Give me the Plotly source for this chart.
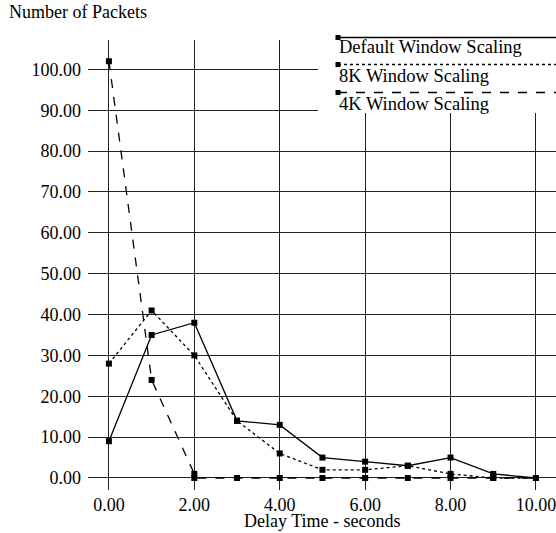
import plotly.graph_objects as go

# Data
delay_seconds = [0, 1, 2, 3, 4, 5, 6, 7, 8, 9, 10]
default_scaling = [9, 35, 38, 14, 13, 5, 4, 3, 5, 1, 0]
scaling_8k = [28, 41, 30, 14, 6, 2, 2, 3, 1, 0, 0]
delay_seconds_4k = [0, 1, 2, 2, 3, 4, 5, 6, 7, 8, 9, 10]
scaling_4k = [102, 24, 1, 0, 0, 0, 0, 0, 0, 0, 0, 0]

series_names = ["Default Window Scaling", "8K Window Scaling", "4K Window Scaling"]
x_tick_values = [0, 2, 4, 6, 8, 10]
y_tick_values = [0, 10, 20, 30, 40, 50, 60, 70, 80, 90, 100]

FONT = "Liberation Serif"
W, H = 556, 533
ML, MR, MT, MB = 88, 0, 40, 43
PW, PH = W - ML - MR, H - MT - MB


def px(x):
    return (x - ML) / PW


def py(y):
    return (H - MB - y) / PH


fig = go.Figure()
styles = ["solid", "dot", "dash"]
xs = [delay_seconds, delay_seconds, delay_seconds_4k]
ys = [default_scaling, scaling_8k, scaling_4k]
for name, x, y, dash in zip(series_names, xs, ys, styles):
    fig.add_trace(go.Scatter(
        x=x, y=y, name=name, mode="lines+markers",
        line=dict(color="black", width=1.3, dash=dash),
        marker=dict(symbol="square", size=6, color="black"),
        showlegend=False, cliponaxis=False,
    ))

shapes = []
# white legend box covering the grid
shapes.append(dict(type="rect", xref="paper", yref="paper",
                   x0=px(318), x1=1.01, y0=py(113), y1=py(28),
                   fillcolor="white", line=dict(width=0), layer="above"))
legend_line_y = [37.5, 64.5, 92.5]
legend_text_y = [47, 76, 104]
annotations = []
for name, ly, ty, dash in zip(series_names, legend_line_y, legend_text_y, styles):
    shapes.append(dict(type="line", xref="paper", yref="paper",
                       x0=px(338), x1=1.0, y0=py(ly), y1=py(ly),
                       line=dict(color="black", width=1.3, dash=dash), layer="above"))
    shapes.append(dict(type="rect", xref="paper", yref="paper",
                       x0=px(335.5), x1=px(340.5), y0=py(ly + 2.5), y1=py(ly - 2.5),
                       fillcolor="black", line=dict(width=0), layer="above"))
    annotations.append(dict(text=name, xref="paper", yref="paper",
                            x=px(337), y=py(ty), xanchor="left", yanchor="middle",
                            showarrow=False, font=dict(family=FONT, size=18.5, color="black")))

annotations.append(dict(text="Number of Packets", xref="paper", yref="paper",
                        x=px(7), y=py(12), xanchor="left", yanchor="middle",
                        showarrow=False, font=dict(family=FONT, size=18, color="black")))
annotations.append(dict(text="Delay Time - seconds", xref="paper", yref="paper",
                        x=0.5, y=py(521), xanchor="center", yanchor="middle",
                        showarrow=False, font=dict(family=FONT, size=18, color="black")))

fig.update_layout(
    width=W, height=H,
    margin=dict(l=ML, r=MR, t=MT, b=MB, pad=0),
    paper_bgcolor="white", plot_bgcolor="white",
    font=dict(family=FONT, size=18, color="black"),
    shapes=shapes, annotations=annotations,
    showlegend=False,
)
fig.update_xaxes(range=[-0.49, 10.47], tickvals=x_tick_values, tickformat=".2f",
                 showgrid=True, gridcolor="#222", gridwidth=1, zeroline=False,
                 showline=False, ticks="", ticklabelstandoff=2, ticklabeloverflow="allow",
                 tickfont=dict(family=FONT, size=18, color="black"))
fig.update_yaxes(range=[-2.94, 107.2], tickvals=y_tick_values, tickformat=".2f",
                 showgrid=True, gridcolor="#222", gridwidth=1, zeroline=False,
                 showline=False, ticks="", ticklabelstandoff=6,
                 tickfont=dict(family=FONT, size=18, color="black"))

fig.write_html("out.html")
